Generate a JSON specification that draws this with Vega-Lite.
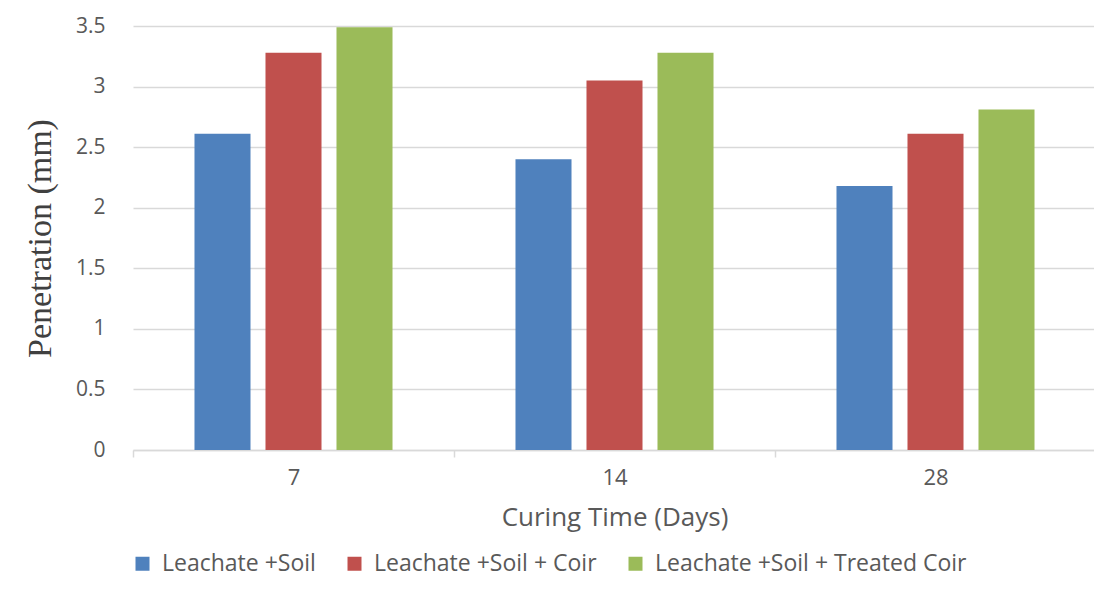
{
  "$schema": "https://vega.github.io/schema/vega-lite/v6.json",
  "width": 963,
  "height": 424,
  "autosize": {"type": "none"},
  "padding": {"left": 133, "top": 26, "right": 0, "bottom": 146},
  "background": "white",
  "data": {
    "values": [
      {"day": "7", "series": "Leachate +Soil", "value": 2.61},
      {"day": "7", "series": "Leachate +Soil + Coir", "value": 3.28},
      {"day": "7", "series": "Leachate +Soil + Treated Coir", "value": 3.49},
      {"day": "14", "series": "Leachate +Soil", "value": 2.4},
      {"day": "14", "series": "Leachate +Soil + Coir", "value": 3.05},
      {"day": "14", "series": "Leachate +Soil + Treated Coir", "value": 3.28},
      {"day": "28", "series": "Leachate +Soil", "value": 2.18},
      {"day": "28", "series": "Leachate +Soil + Coir", "value": 2.61},
      {"day": "28", "series": "Leachate +Soil + Treated Coir", "value": 2.81}
    ]
  },
  "mark": {"type": "bar"},
  "encoding": {
    "x": {
      "field": "day",
      "type": "nominal",
      "sort": ["7", "14", "28"],
      "scale": {"paddingInner": 0, "paddingOuter": 0},
      "axis": {
        "title": "Curing Time (Days)",
        "labelAngle": 0,
        "labelFont": "Open Sans",
        "labelFontSize": 22,
        "labelColor": "#595959",
        "labelPadding": 10,
        "titleFont": "Open Sans",
        "titleFontSize": 26,
        "titleFontWeight": "normal",
        "titleColor": "#595959",
        "titlePadding": 16,
        "domainColor": "#d9d9d9",
        "domainWidth": 1.5,
        "tickColor": "#d9d9d9",
        "tickWidth": 1.5,
        "tickSize": 7,
        "tickBand": "extent",
        "grid": false
      }
    },
    "xOffset": {
      "field": "series",
      "type": "nominal",
      "scale": {"paddingInner": 0.211, "paddingOuter": 0.866}
    },
    "y": {
      "field": "value",
      "type": "quantitative",
      "scale": {"domain": [0, 3.5], "nice": false},
      "axis": {
        "title": "Penetration (mm)",
        "values": [0, 0.5, 1, 1.5, 2, 2.5, 3, 3.5],
        "format": "~g",
        "labelFont": "Open Sans",
        "labelFontSize": 21,
        "labelColor": "#595959",
        "labelPadding": 28,
        "ticks": false,
        "domain": false,
        "gridColor": "#d9d9d9",
        "gridWidth": 1.5,
        "titleFont": "Liberation Serif",
        "titleFontSize": 34,
        "titleFontWeight": "normal",
        "titleColor": "#404040",
        "titlePadding": 18
      }
    },
    "color": {
      "field": "series",
      "type": "nominal",
      "scale": {
        "domain": ["Leachate +Soil", "Leachate +Soil + Coir", "Leachate +Soil + Treated Coir"],
        "range": ["#4f81bd", "#c0504d", "#9bbb59"]
      },
      "legend": {
        "title": null,
        "orient": "none",
        "direction": "horizontal",
        "legendX": -2,
        "legendY": 526,
        "symbolType": "square",
        "symbolSize": 196,
        "symbolStrokeWidth": 0,
        "labelFont": "Open Sans",
        "labelFontSize": 23,
        "labelColor": "#595959",
        "labelOffset": 8,
        "labelLimit": 0,
        "columnPadding": 27,
        "padding": 0
      }
    }
  },
  "config": {"view": {"stroke": null}}
}
